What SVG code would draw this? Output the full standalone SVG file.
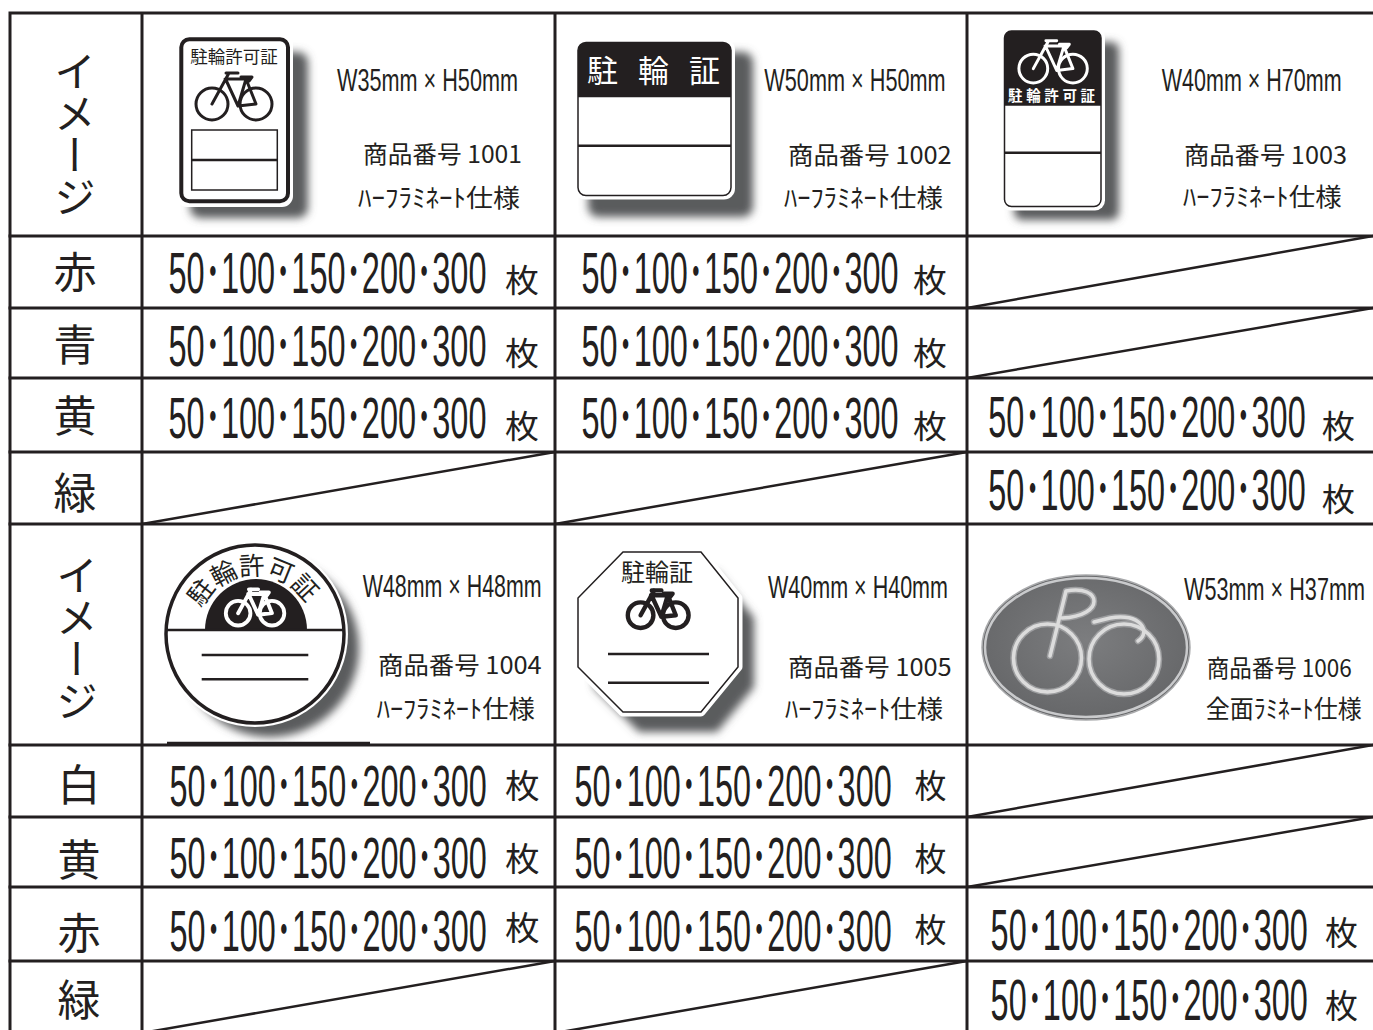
<svg xmlns="http://www.w3.org/2000/svg" width="1373" height="1030" viewBox="0 0 1373 1030">
<defs>
<style>
.ln{stroke:#231f20;stroke-width:3;fill:none;stroke-linecap:square}
.dg{stroke:#231f20;stroke-width:2.5;fill:none}
.t{fill:#231f20;font-family:"Noto Sans CJK JP","Noto Sans CJK SC",sans-serif}
.num{font-family:"Liberation Sans","Noto Sans CJK JP",sans-serif;font-size:58px;fill:#231f20}
.mai{font-size:32px}
.mai2{font-size:33px}
.lab{font-size:43px;text-anchor:middle;dominant-baseline:central}
.vert{writing-mode:vertical-rl;font-size:42px;text-anchor:middle}
.sz{font-family:"Liberation Sans","Noto Sans CJK JP",sans-serif;font-size:31px;fill:#231f20}
.code{font-size:24px}
.lam{font-size:25px}
.sh{fill:#5a5b5d;filter:url(#blur)}
.blk{fill:#231f20}
.wt{fill:#fff}
.bx{fill:#fff;stroke:#231f20;stroke-width:1.5}
.rule{stroke:#231f20;stroke-width:2.5}
</style>
<filter id="blur" x="-30%" y="-30%" width="160%" height="160%"><feGaussianBlur stdDeviation="4"/></filter>
<radialGradient id="g6" cx="50%" cy="45%" r="60%"><stop offset="0" stop-color="#7c7d7f"/><stop offset="1" stop-color="#646567"/></radialGradient>
<symbol id="bike" viewBox="-2 -2 82 56" overflow="visible">
<g fill="none" stroke-linecap="round" stroke-linejoin="round">
<circle cx="17" cy="34" r="16"/>
<circle cx="61" cy="34" r="16"/>
<path d="M17 34 L34 3 M31 3 H43 M30 9 H55 M31 10 L43 36 M51 9 L43 36 L61 34 L51 9"/>
<path d="M46 7 H57 L54 11 Z" fill="currentColor"/>
</g>
</symbol>
</defs>
<rect width="1373" height="1030" fill="#fff"/>

<g id="connectors">
<path class="ln" d="M10 13 H1373 M10 13 V1030 M142 13 V1030 M555 13 V1030 M967 13 V1030"/>
<path class="ln" d="M10 236 H1373 M10 308 H1373 M10 378 H1373 M10 452 H1373 M10 524 H1373 M10 745 H1373 M10 817 H1373 M10 887 H1373 M10 961 H1373"/>
<path class="dg" d="M967 308 L1373 236 M967 378 L1373 308 M142 524 L555 452 M555 524 L967 452 M967 817 L1373 745 M967 887 L1373 817 M142 1033 L555 961 M555 1033 L967 961"/>
<path class="dg" d="M167 743 H370" stroke-width="2"/>
</g>

<g id="labels">
<text class="t vert" x="75" y="134">イメージ</text>
<text class="t vert" x="77" y="638">イメージ</text>
<text class="t lab" x="75" y="269">赤</text>
<text class="t lab" x="75" y="342">青</text>
<text class="t lab" x="75" y="413">黄</text>
<text class="t lab" x="75" y="490">緑</text>
<text class="t lab" x="79" y="782">白</text>
<text class="t lab" x="79" y="857">黄</text>
<text class="t lab" x="79" y="930">赤</text>
<text class="t lab" x="79" y="997">緑</text>
</g>

<g id="item-1001">
<rect class="sh" x="190" y="52" width="118" height="166" rx="10"/>
<rect class="wt" x="176" y="34" width="117" height="173" rx="11"/>
<rect x="181.3" y="39.3" width="106.7" height="162" rx="8" fill="#fff" stroke="#231f20" stroke-width="4"/>
<text class="t" x="234" y="63" font-size="17.5" text-anchor="middle">駐輪許可証</text>
<use href="#bike" x="193" y="68" width="82" height="56" stroke="#231f20" color="#231f20" stroke-width="3"/>
<rect class="bx" x="191.7" y="130" width="85.6" height="60"/>
<line class="rule" x1="191.7" y1="160" x2="277.3" y2="160" stroke-width="2"/>
<text class="sz" transform="translate(337 91) scale(0.7 1)" textLength="258.6" lengthAdjust="spacingAndGlyphs">W35mm × H50mm</text>
<text class="t code" x="363" y="163" textLength="159" lengthAdjust="spacingAndGlyphs">商品番号 1001</text>
<text class="t lam" x="358" y="207" textLength="162" lengthAdjust="spacingAndGlyphs">ﾊｰﾌﾗﾐﾈｰﾄ仕様</text>
</g>

<g id="item-1002">
<rect class="sh" x="588" y="52" width="165" height="165" rx="10"/>
<rect class="wt" x="574" y="38.5" width="161" height="161" rx="11"/>
<rect x="578" y="42.5" width="153" height="153" rx="8" fill="#fff" stroke="#231f20" stroke-width="1.5"/>
<path class="blk" d="M578 97.3 V50.5 A8 8 0 0 1 586 42.5 H723 A8 8 0 0 1 731 50.5 V97.3 Z"/>
<text class="t" x="587" y="82" font-size="31" style="fill:#fff" textLength="133" lengthAdjust="spacing">駐輪証</text>
<line class="rule" x1="578" y1="145.7" x2="731" y2="145.7" stroke-width="2"/>
<text class="sz" transform="translate(764.3 91) scale(0.7 1)" textLength="259.1" lengthAdjust="spacingAndGlyphs">W50mm × H50mm</text>
<text class="t code" x="788" y="164" textLength="163.7" lengthAdjust="spacingAndGlyphs">商品番号 1002</text>
<text class="t lam" x="784" y="207" textLength="159" lengthAdjust="spacingAndGlyphs">ﾊｰﾌﾗﾐﾈｰﾄ仕様</text>
</g>

<g id="item-1003">
<rect class="sh" x="1014" y="42" width="105" height="178" rx="8"/>
<rect class="wt" x="1000.5" y="27" width="104.5" height="183.5" rx="10"/>
<rect x="1004.5" y="31" width="96.5" height="175.5" rx="7" fill="#fff" stroke="#231f20" stroke-width="1.5"/>
<path class="blk" d="M1004.5 105.7 V38 A7 7 0 0 1 1011.5 31 H1094 A7 7 0 0 1 1101 38 V105.7 Z"/>
<use href="#bike" x="1016.2" y="36.2" width="73.8" height="50.4" stroke="#fff" color="#fff" stroke-width="3.3"/>
<text class="t" x="1008" y="101" font-size="14.5" font-weight="bold" style="fill:#fff" textLength="87" lengthAdjust="spacing">駐輪許可証</text>
<line class="rule" x1="1004.5" y1="152.7" x2="1101" y2="152.7" stroke-width="2"/>
<text class="sz" transform="translate(1161.7 91) scale(0.7 1)" textLength="257.1" lengthAdjust="spacingAndGlyphs">W40mm × H70mm</text>
<text class="t code" x="1184" y="164" textLength="163" lengthAdjust="spacingAndGlyphs">商品番号 1003</text>
<text class="t lam" x="1183" y="206" textLength="158.7" lengthAdjust="spacingAndGlyphs">ﾊｰﾌﾗﾐﾈｰﾄ仕様</text>
</g>

<g id="item-1004">
<circle class="sh" cx="270" cy="648" r="89"/>
<circle class="wt" cx="255" cy="634" r="93"/>
<circle cx="255" cy="634" r="89" fill="#fff" stroke="#231f20" stroke-width="3.5"/>
<path class="blk" d="M205 630 A51 51 0 0 1 307 630 Z"/>
<line class="rule" x1="167" y1="630" x2="343" y2="630" stroke-width="4.5"/>
<use href="#bike" x="223.5" y="585.5" width="63.1" height="43.1" stroke="#fff" color="#fff" stroke-width="5"/>
<path id="arc4" d="M196 634 A59 59 0 0 1 314 634" fill="none"/>
<text class="t" font-size="25.5"><textPath href="#arc4" startOffset="48.5%" text-anchor="middle">駐輪許可証</textPath></text>
<line class="rule" x1="201.7" y1="655" x2="308.3" y2="655"/>
<line class="rule" x1="201.7" y1="679.3" x2="308.3" y2="679.3"/>
<text class="sz" transform="translate(362.7 597) scale(0.7 1)" textLength="255.7" lengthAdjust="spacingAndGlyphs">W48mm × H48mm</text>
<text class="t code" x="378" y="674" textLength="163.7" lengthAdjust="spacingAndGlyphs">商品番号 1004</text>
<text class="t lam" x="376.7" y="718" textLength="158.3" lengthAdjust="spacingAndGlyphs">ﾊｰﾌﾗﾐﾈｰﾄ仕様</text>
</g>

<g id="item-1005">
<polygon class="sh" points="639,572 717,572 754,618 754,687 717,732 639,732 594,687 594,618"/>
<polygon points="623,552 701,552 738,598 738,667 701,712 623,712 578,667 578,598" fill="#fff" stroke="#fff" stroke-width="9" stroke-linejoin="round"/>
<polygon points="623,552 701,552 738,598 738,667 701,712 623,712 578,667 578,598" fill="#fff" stroke="#231f20" stroke-width="1.5"/>
<text class="t" x="657" y="581" font-size="24" text-anchor="middle">駐輪証</text>
<use href="#bike" x="625.4" y="586.4" width="65.6" height="44.8" stroke="#231f20" color="#231f20" stroke-width="5.5"/>
<line class="rule" x1="608" y1="654" x2="709" y2="654"/>
<line class="rule" x1="608" y1="682.7" x2="709" y2="682.7"/>
<text class="sz" transform="translate(768 598) scale(0.7 1)" textLength="257.1" lengthAdjust="spacingAndGlyphs">W40mm × H40mm</text>
<text class="t code" x="788" y="675.5" textLength="163.7" lengthAdjust="spacingAndGlyphs">商品番号 1005</text>
<text class="t lam" x="785" y="718" textLength="158" lengthAdjust="spacingAndGlyphs">ﾊｰﾌﾗﾐﾈｰﾄ仕様</text>
</g>

<g id="item-1006">
<ellipse cx="1086" cy="647.5" rx="104" ry="72.5" fill="url(#g6)" stroke="#a9aaac" stroke-width="1.5"/>
<ellipse cx="1086" cy="647.5" rx="101" ry="69.5" fill="none" stroke="#c9cacc" stroke-width="2.5"/>
<g fill="none" stroke="#9c9d9f" stroke-width="6.5" stroke-linecap="round" stroke-linejoin="round">
<circle cx="1047.5" cy="658" r="34"/>
<path d="M1050 656 L1066 591 C1102 584 1106 616 1062 618"/>
<path d="M1094 622 L1110 618 C1140 612 1152 632 1138 641"/>
<circle cx="1124" cy="659" r="35"/>
</g>
<g fill="none" stroke="#dcdcdc" stroke-width="3.5" stroke-linecap="round" stroke-linejoin="round">
<circle cx="1047.5" cy="658" r="34"/>
<path d="M1050 656 L1066 591 C1102 584 1106 616 1062 618"/>
<path d="M1094 622 L1110 618 C1140 612 1152 632 1138 641"/>
<circle cx="1124" cy="659" r="35"/>
</g>
<text class="sz" transform="translate(1184 600) scale(0.7 1)" textLength="258.6" lengthAdjust="spacingAndGlyphs">W53mm × H37mm</text>
<text class="t code" x="1206.7" y="677" textLength="145" lengthAdjust="spacingAndGlyphs">商品番号 1006</text>
<text class="t lam" x="1205.7" y="718" textLength="156" lengthAdjust="spacingAndGlyphs">全面ﾗﾐﾈｰﾄ仕様</text>
</g>

<g id="prices-top">
<text class="num" transform="translate(168.5 293) scale(0.5 1)" textLength="636" lengthAdjust="spacingAndGlyphs">50･100･150･200･300</text>
<text class="t mai" x="505" y="292" textLength="34" lengthAdjust="spacingAndGlyphs">枚</text>
<text class="num" transform="translate(581.5 293) scale(0.5 1)" textLength="634" lengthAdjust="spacingAndGlyphs">50･100･150･200･300</text>
<text class="t mai" x="913" y="292" textLength="34" lengthAdjust="spacingAndGlyphs">枚</text>
<text class="num" transform="translate(168.5 365.5) scale(0.5 1)" textLength="636" lengthAdjust="spacingAndGlyphs">50･100･150･200･300</text>
<text class="t mai" x="505" y="365" textLength="34" lengthAdjust="spacingAndGlyphs">枚</text>
<text class="num" transform="translate(581.5 365.5) scale(0.5 1)" textLength="634" lengthAdjust="spacingAndGlyphs">50･100･150･200･300</text>
<text class="t mai" x="913" y="365" textLength="34" lengthAdjust="spacingAndGlyphs">枚</text>
<text class="num" transform="translate(168.5 437.5) scale(0.5 1)" textLength="636" lengthAdjust="spacingAndGlyphs">50･100･150･200･300</text>
<text class="t mai" x="505" y="438" textLength="34" lengthAdjust="spacingAndGlyphs">枚</text>
<text class="num" transform="translate(581.5 437.5) scale(0.5 1)" textLength="634" lengthAdjust="spacingAndGlyphs">50･100･150･200･300</text>
<text class="t mai" x="913" y="438" textLength="34" lengthAdjust="spacingAndGlyphs">枚</text>
<text class="num" transform="translate(988.3 437) scale(0.5 1)" textLength="634.8" lengthAdjust="spacingAndGlyphs">50･100･150･200･300</text>
<text class="t mai" x="1321.7" y="438" textLength="33.3" lengthAdjust="spacingAndGlyphs">枚</text>
<text class="num" transform="translate(988.3 510) scale(0.5 1)" textLength="634.8" lengthAdjust="spacingAndGlyphs">50･100･150･200･300</text>
<text class="t mai" x="1321.7" y="511" textLength="33.3" lengthAdjust="spacingAndGlyphs">枚</text>
</g>

<g id="prices-bottom">
<text class="num" transform="translate(169.5 806) scale(0.5 1)" textLength="634.6" lengthAdjust="spacingAndGlyphs">50･100･150･200･300</text>
<text class="t mai2" x="505" y="798" textLength="34.6" lengthAdjust="spacingAndGlyphs">枚</text>
<text class="num" transform="translate(574.5 806) scale(0.5 1)" textLength="634.4" lengthAdjust="spacingAndGlyphs">50･100･150･200･300</text>
<text class="t mai2" x="914.6" y="798" textLength="32" lengthAdjust="spacingAndGlyphs">枚</text>
<text class="num" transform="translate(169.5 877.7) scale(0.5 1)" textLength="634.6" lengthAdjust="spacingAndGlyphs">50･100･150･200･300</text>
<text class="t mai2" x="505" y="871" textLength="34.6" lengthAdjust="spacingAndGlyphs">枚</text>
<text class="num" transform="translate(574.5 877.7) scale(0.5 1)" textLength="634.4" lengthAdjust="spacingAndGlyphs">50･100･150･200･300</text>
<text class="t mai2" x="914.6" y="871" textLength="32" lengthAdjust="spacingAndGlyphs">枚</text>
<text class="num" transform="translate(169.5 950.7) scale(0.5 1)" textLength="634.6" lengthAdjust="spacingAndGlyphs">50･100･150･200･300</text>
<text class="t mai2" x="505" y="940" textLength="34.6" lengthAdjust="spacingAndGlyphs">枚</text>
<text class="num" transform="translate(574.5 950.7) scale(0.5 1)" textLength="634.4" lengthAdjust="spacingAndGlyphs">50･100･150･200･300</text>
<text class="t mai2" x="914.6" y="942" textLength="32" lengthAdjust="spacingAndGlyphs">枚</text>
<text class="num" transform="translate(990.6 950) scale(0.5 1)" textLength="634.4" lengthAdjust="spacingAndGlyphs">50･100･150･200･300</text>
<text class="t mai2" x="1325" y="945" textLength="33" lengthAdjust="spacingAndGlyphs">枚</text>
<text class="num" transform="translate(990.6 1020) scale(0.5 1)" textLength="634.4" lengthAdjust="spacingAndGlyphs">50･100･150･200･300</text>
<text class="t mai2" x="1325" y="1018" textLength="33" lengthAdjust="spacingAndGlyphs">枚</text>
</g>
</svg>
